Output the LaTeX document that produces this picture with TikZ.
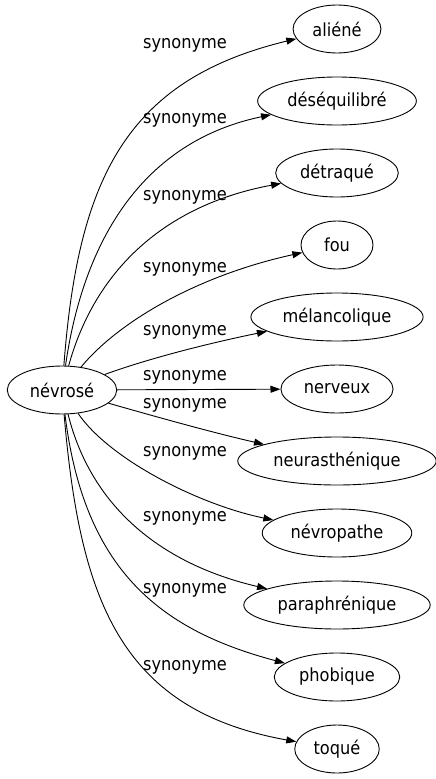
\documentclass[tikz,border=0pt]{standalone}
\usepackage{fontspec}
\setmainfont{DejaVu Sans Condensed}
\usetikzlibrary{arrows.meta,shapes.geometric}

\tikzset{
  word/.style={draw, ellipse, line width=0.9pt, minimum height=48pt, minimum width=72pt, inner xsep=6.5pt, inner ysep=0pt, font=\fontsize{18}{21}\selectfont},
  rel/.style={inner sep=0pt, font=\fontsize{18}{21}\selectfont},
  syn/.style={-{Triangle[length=10pt,width=7pt]}, line width=0.9pt},
}

\begin{document}
\begin{tikzpicture}[x=1pt,y=-1pt]
  \useasboundingbox (0,0) rectangle (436,779);

  % central word
  \node[word] (nevrose) at (62,390) {névrosé};

  % synonyms
  \foreach \name/\txt [count=\i from 0] in {aliene/aliéné, desequilibre/déséquilibré, detraque/détraqué, fou/fou, melancolique/mélancolique, nerveux/nerveux, neurasthenique/neurasthénique, nevropathe/névropathe, paraphrenique/paraphrénique, phobique/phobique, toque/toqué}
    \node[word] (\name) at (337,{29+72*\i}) {\txt};

  % edge labels
  \foreach \name/\y in {aliene/45, desequilibre/120, detraque/197, fou/269, melancolique/332, nerveux/377, neurasthenique/405, nevropathe/453, paraphrenique/518, phobique/590, toque/667}
    \node[rel] (l-\name) at (185,\y) {synonyme};

  % edges
  \draw[syn] (nevrose) .. controls (78,180) and (125,80) .. (aliene);
  \draw[syn] (nevrose) .. controls (85,230) and (150,140) .. (desequilibre);
  \draw[syn] (nevrose) .. controls (95,270) and (165,205) .. (detraque);
  \draw[syn] (nevrose) .. controls (120,320) and (200,275) .. (fou);
  \draw[syn] (nevrose) .. controls (150,358) and (210,343) .. (melancolique);
  \draw[syn] (nevrose) -- (nerveux);
  \draw[syn] (nevrose) .. controls (150,415) and (210,432) .. (neurasthenique);
  \draw[syn] (nevrose) .. controls (110,460) and (200,505) .. (nevropathe);
  \draw[syn] (nevrose) .. controls (92,510) and (165,565) .. (paraphrenique);
  \draw[syn] (nevrose) .. controls (84,570) and (160,630) .. (phobique);
  \draw[syn] (nevrose) .. controls (80,600) and (120,710) .. (toque);
\end{tikzpicture}
\end{document}
